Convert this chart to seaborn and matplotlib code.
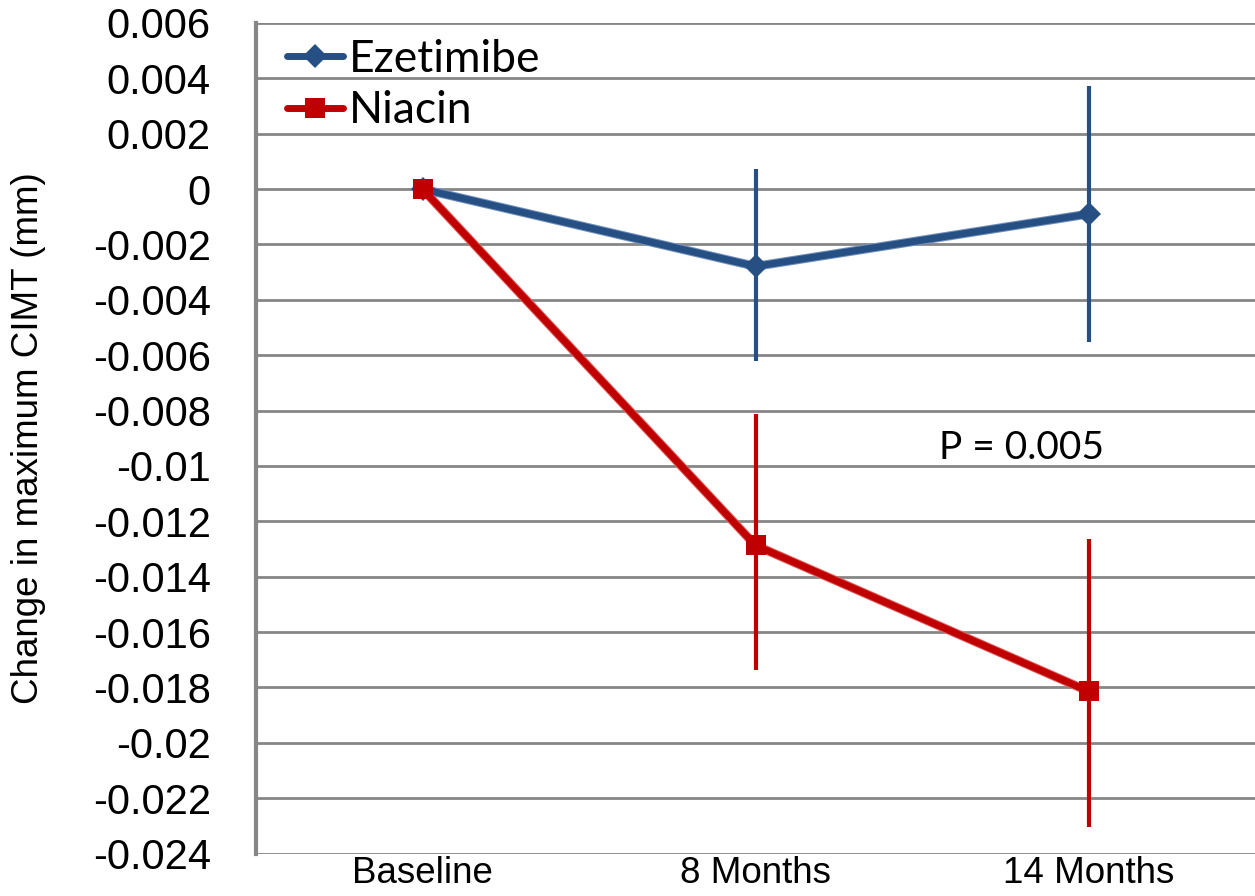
import numpy as np
import pandas as pd
import matplotlib
matplotlib.use("Agg")
import matplotlib.pyplot as plt
import seaborn as sns

# values
visits = ["Baseline", "8 Months", "14 Months"]
ezetimibe_mean = [0.0, -0.00279, -0.00090]
ezetimibe_low = [0.0, -0.00622, -0.00553]
ezetimibe_high = [0.0, 0.00072, 0.00372]
niacin_mean = [0.0, -0.01287, -0.01814]
niacin_low = [0.0, -0.01738, -0.02306]
niacin_high = [0.0, -0.00813, -0.01265]
groups = ["Ezetimibe", "Niacin"]
p_label = "P = 0.005"

colors = {"Ezetimibe": "#264F84", "Niacin": "#C00000"}
edge_colors = {"Ezetimibe": "#7290BC", "Niacin": "#DC6060"}
marker_map = {"Ezetimibe": "D", "Niacin": "s"}
marker_size = {"Ezetimibe": 12, "Niacin": 14}
grid_gray = "#868686"

df = pd.DataFrame({
    "x": list(range(len(visits))) * 2,
    "group": [groups[0]] * 3 + [groups[1]] * 3,
    "mean": ezetimibe_mean + niacin_mean,
    "low": ezetimibe_low + niacin_low,
    "high": ezetimibe_high + niacin_high,
})

sns.set_style("white")
plt.rcParams["font.family"] = ["Liberation Sans", "DejaVu Sans"]
for k in ["text.color", "axes.labelcolor", "xtick.color", "ytick.color"]:
    plt.rcParams[k] = "black"

fig = plt.figure(figsize=(12.55, 8.96), dpi=100)
ax = fig.add_axes([256 / 1255, 42.5 / 896, 999 / 1255, 830.5 / 896])

# error bars first so the markers sit on top
for g in groups:
    sub = df[df["group"] == g]
    ax.vlines(sub["x"], sub["low"], sub["high"], color=colors[g],
              linewidth=3, zorder=1.5)

# lighter halo under each line, the excel look
sns.lineplot(data=df, x="x", y="mean", hue="group", hue_order=groups,
             palette=edge_colors, linewidth=6.5, legend=False, ax=ax,
             zorder=2.5)
n_halo = len(ax.get_lines())
sns.lineplot(data=df, x="x", y="mean", hue="group", style="group",
             hue_order=groups, style_order=groups, palette=colors,
             markers=marker_map, dashes=False, linewidth=5, ax=ax, zorder=3)

# main lines come out in hue order, bump the marker sizes
for line, g in zip(ax.get_lines()[n_halo:], groups):
    line.set_markersize(marker_size[g])
    line.set_markeredgewidth(0)
    line.set_markerfacecolor(colors[g])

ax.set_xlim(-0.5, 2.5)
ax.set_ylim(-0.024, 0.006)
ax.set_xticks(range(len(visits)))
ax.set_xticklabels(visits)
yt = np.round(np.arange(-0.024, 0.0061, 0.002), 3)
ax.set_yticks(yt)
ax.set_yticklabels([f"{v + 0.0:g}" for v in yt])

ax.grid(axis="y", color=grid_gray, linewidth=2)
ax.set_axisbelow(True)
for s in ["top", "right", "bottom"]:
    ax.spines[s].set_visible(False)
ax.spines["left"].set_color(grid_gray)
ax.spines["left"].set_linewidth(3)

ax.tick_params(axis="y", direction="out", length=11.5, width=1.5,
               color=grid_gray, labelcolor="black", pad=21, labelsize=30)
ax.tick_params(axis="x", length=0, pad=2, labelsize=26.5, labelcolor="black")
ax.set_xlabel("")
ax.set_ylabel("Change in maximum CIMT (mm)", fontsize=26.5, va="center")
ax.yaxis.set_label_coords(-0.228, 0.5)

ax.text(1.80, -0.00976, p_label, fontsize=28, family=["Lato", "DejaVu Sans"],
        ha="center", va="baseline")

leg = ax.legend(loc="upper left", bbox_to_anchor=(0.031, 0.981), frameon=False,
                borderpad=0, borderaxespad=0, handlelength=1.25,
                handletextpad=0.15, labelspacing=0.24,
                prop={"family": ["Lato", "DejaVu Sans"], "size": 32})
for h, t in zip(leg.legend_handles, leg.get_texts()):
    g = t.get_text()
    h.set_markersize(marker_size[g])
    h.set_markeredgewidth(0)

fig.savefig("out.png", dpi=100)
